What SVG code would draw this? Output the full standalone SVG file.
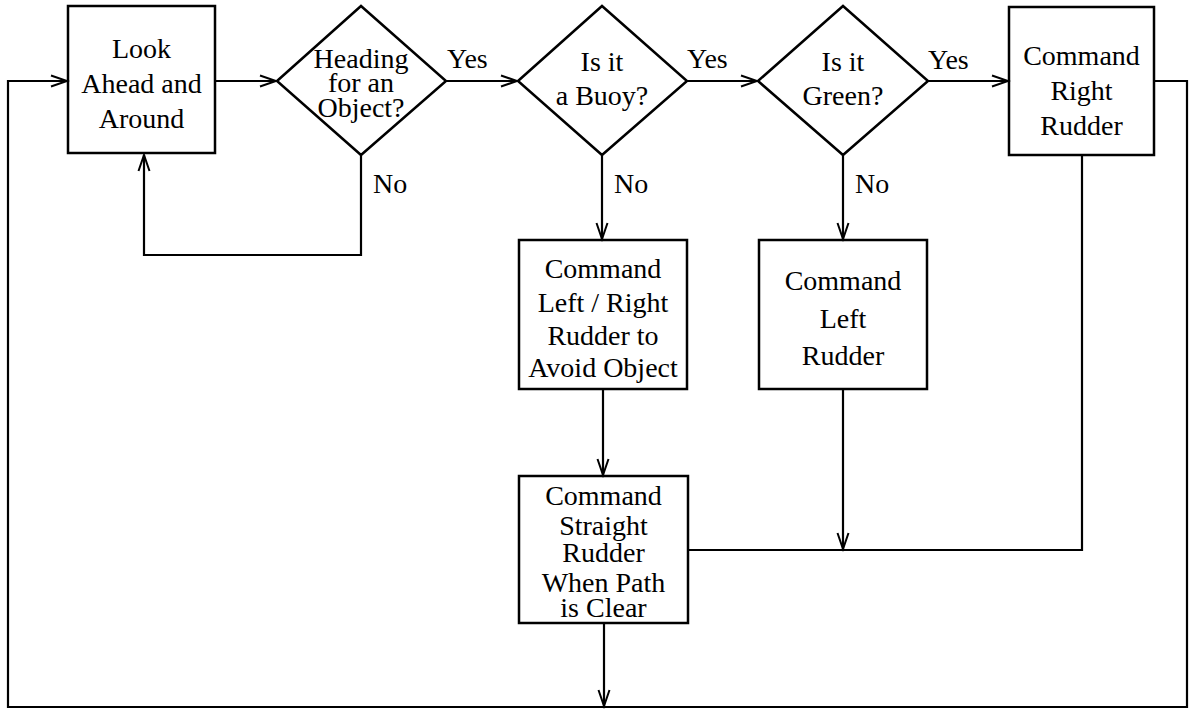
<svg xmlns="http://www.w3.org/2000/svg" width="1191" height="709" viewBox="0 0 1191 709">
<style>
.box{fill:none;stroke:#000;stroke-width:2.5}
.ln{fill:none;stroke:#000;stroke-width:2.2}
text{font-family:"Liberation Serif","Times New Roman",serif;font-size:28px;fill:#000;text-anchor:middle}
.lbl{text-anchor:start}
</style>
<defs>
<marker id="arr" markerUnits="userSpaceOnUse" markerWidth="20" markerHeight="14" refX="17" refY="7" orient="auto">
<path d="M1,1.5 L17,7 L1,12.5" fill="none" stroke="#000" stroke-width="2"/>
</marker>
</defs>
<rect width="1191" height="709" fill="#fff"/>
<g id="connectors">
<path class="ln" d="M215,81 H276" marker-end="url(#arr)"/>
<path class="ln" d="M446,81 H517" marker-end="url(#arr)"/>
<path class="ln" d="M687,81 H757" marker-end="url(#arr)"/>
<path class="ln" d="M928,81 H1008" marker-end="url(#arr)"/>
<path class="ln" d="M361,155 V255 H144 V155" marker-end="url(#arr)"/>
<path class="ln" d="M602,155 V239" marker-end="url(#arr)"/>
<path class="ln" d="M843,155 V239" marker-end="url(#arr)"/>
<path class="ln" d="M603,389 V475" marker-end="url(#arr)"/>
<path class="ln" d="M843,389 V549" marker-end="url(#arr)"/>
<path class="ln" d="M688,550 H1082 V155"/>
<path class="ln" d="M1154,81 H1187 V707 H8 V81 H67" marker-end="url(#arr)"/>
<path class="ln" d="M604,623 V706" marker-end="url(#arr)"/>
<text class="lbl" x="447" y="68">Yes</text>
<text class="lbl" x="687" y="68">Yes</text>
<text class="lbl" x="928" y="69">Yes</text>
<text class="lbl" x="373" y="193">No</text>
<text class="lbl" x="614" y="193">No</text>
<text class="lbl" x="855" y="193">No</text>
</g>
<g id="look">
<rect class="box" x="68" y="6" width="147" height="147"/>
<text x="141.5" y="58">Look</text>
<text x="141.5" y="93">Ahead and</text>
<text x="141.5" y="128">Around</text>
</g>
<g id="heading">
<path class="box" d="M277,81 L361,6 L446,81 L361,155 Z"/>
<text x="361" y="68">Heading</text>
<text x="361" y="92">for an</text>
<text x="361" y="117">Object?</text>
</g>
<g id="buoy">
<path class="box" d="M518,81 L602,6 L687,81 L602,155 Z"/>
<text x="602" y="71">Is it</text>
<text x="602" y="105">a Buoy?</text>
</g>
<g id="green">
<path class="box" d="M758,81 L843,6 L928,81 L843,155 Z"/>
<text x="843" y="71">Is it</text>
<text x="843" y="105">Green?</text>
</g>
<g id="right-rudder">
<rect class="box" x="1009" y="7" width="145" height="148"/>
<text x="1081.5" y="65">Command</text>
<text x="1081.5" y="100">Right</text>
<text x="1081.5" y="135">Rudder</text>
</g>
<g id="avoid">
<rect class="box" x="519" y="240" width="168" height="149"/>
<text x="603" y="278">Command</text>
<text x="603" y="312">Left / Right</text>
<text x="603" y="345">Rudder to</text>
<text x="603" y="377">Avoid Object</text>
</g>
<g id="left-rudder">
<rect class="box" x="759" y="240" width="168" height="149"/>
<text x="843" y="290">Command</text>
<text x="843" y="328">Left</text>
<text x="843" y="365">Rudder</text>
</g>
<g id="straight">
<rect class="box" x="519" y="476" width="169" height="147"/>
<text x="603.5" y="505">Command</text>
<text x="603.5" y="535">Straight</text>
<text x="603.5" y="562">Rudder</text>
<text x="603.5" y="592">When Path</text>
<text x="603.5" y="617">is Clear</text>
</g>
</svg>
